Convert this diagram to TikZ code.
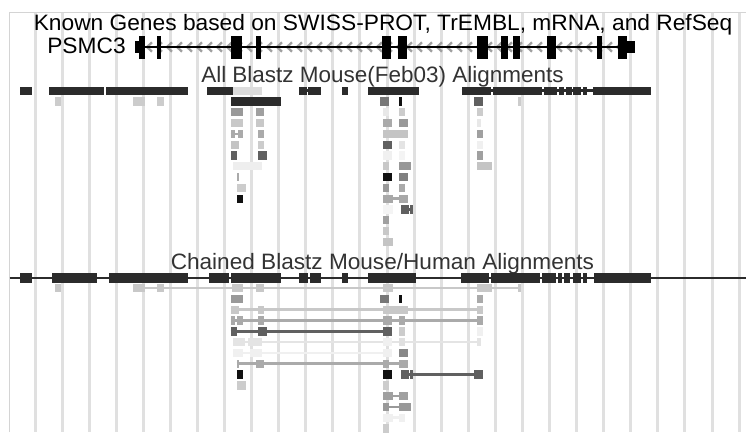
\documentclass[tikz,border=0pt]{standalone}
\usepackage{fontspec}
\setmainfont{Liberation Sans}
\usepackage{graphicx}
\definecolor{c11}{HTML}{111111}
\definecolor{c2b}{HTML}{2B2B2B}
\definecolor{c60}{HTML}{606060}
\definecolor{c77}{HTML}{777777}
\definecolor{c80}{HTML}{808080}
\definecolor{c88}{HTML}{888888}
\definecolor{c99}{HTML}{999999}
\definecolor{ca0}{HTML}{A0A0A0}
\definecolor{ca8}{HTML}{A8A8A8}
\definecolor{caa}{HTML}{AAAAAA}
\definecolor{cc4}{HTML}{C4C4C4}
\definecolor{cc8}{HTML}{C8C8C8}
\definecolor{ccc}{HTML}{CCCCCC}
\definecolor{cdc}{HTML}{DCDCDC}
\definecolor{ce0}{HTML}{E0E0E0}
\definecolor{ce4}{HTML}{E4E4E4}
\definecolor{ce8}{HTML}{E8E8E8}
\definecolor{cee}{HTML}{EEEEEE}
\definecolor{cf0}{HTML}{F0F0F0}
\definecolor{cf4}{HTML}{F4F4F4}
\definecolor{gridc}{HTML}{E0E0E0}
\definecolor{borderc}{HTML}{D4D4D4}
\definecolor{labelc}{HTML}{333333}
\newcommand\BZbox[4]{\pgfmathsetmacro\yt{86.5+(#1-1)*10.8}\fill[#2] (#3,\yt) rectangle (#4,{\yt+8.3});}
\newcommand\BZline[4]{\pgfmathsetmacro\ym{86.5+(#1-1)*10.8+4.15}\draw[#2,line width=1.9pt] (#3,\ym) -- (#4,\ym);}
\newcommand\CHbox[4]{\pgfmathsetmacro\yt{284+(#1-1)*10.8}\fill[#2] (#3,\yt) rectangle (#4,{\yt+8.3});}
\newcommand\CHline[4]{\pgfmathsetmacro\ym{284+(#1-1)*10.8+4.15}\draw[#2,line width=1.9pt] (#3,\ym) -- (#4,\ym);}
\newcommand\GENEbox[2]{\fill[black] (#1,35.5) rectangle (#2,58.5);}
\newcommand\MAINbox[2]{\fill[c2b] (#1,272.7) rectangle (#2,282.7);}
\tikzset{
  lbl/.style={anchor=base west,inner sep=0pt,font=\fontsize{16.7}{18}\selectfont},
  chev/.style={draw=ca0,line width=1.7pt}
}
\begin{document}
\begin{tikzpicture}[x=0.75pt,y=-0.75pt]
\useasboundingbox (0,0) rectangle (746,432);
\fill[white] (0,0) rectangle (746,432);
% grid
\foreach \k in {0,...,26} {\fill[gridc] ({35+27.08*\k-1.5},12) rectangle ({35+27.08*\k+1.5},432);}
\draw[borderc,line width=0.75pt] (9.5,432) -- (9.5,12) -- (746,12);
% titles
\node[lbl,text=black] (title) at (33.5,30.5) {\scalebox{1.022}[1]{Known Genes based on SWISS-PROT, TrEMBL, mRNA, and RefSeq}};
\node[lbl,text=black] (gname) at (47,53) {\scalebox{1.022}[1]{PSMC3}};
\node[lbl,text=labelc] (blastz) at (201,82.3) {\scalebox{1.01}[1]{All Blastz Mouse(Feb03) Alignments}};
\node[lbl,text=labelc] (chain) at (170.5,269.3) {\scalebox{1.015}[1]{Chained Blastz Mouse/Human Alignments}};
% gene track
\foreach \x in {147,157,...,627} {\draw[chev] (\x+5,42.3) -- (\x,47) -- (\x+5,51.7);}
\draw[black,line width=1.8pt] (135,47) -- (635,47);
\fill[black] (135,41) rectangle (139.3,53);
\GENEbox{139.3}{145}
\GENEbox{157.3}{160.7}
\GENEbox{231}{241.7}
\GENEbox{255.7}{260.7}
\GENEbox{382}{390.5}
\GENEbox{398}{407}
\GENEbox{477}{488.3}
\GENEbox{500.7}{508.3}
\GENEbox{513.3}{520}
\GENEbox{546.7}{556}
\GENEbox{596.7}{602.3}
\GENEbox{618.3}{626.7}
\fill[black] (626.7,41) rectangle (635,53);
% blastz row 1
\BZbox{1}{c2b}{20}{32.3}
\BZbox{1}{c2b}{49.3}{104}
\BZbox{1}{c2b}{106}{188.3}
\BZbox{1}{c2b}{206.7}{233.3}
\BZbox{1}{cdc}{233.3}{261.7}
\BZline{1}{c2b}{299}{320.7}
\BZbox{1}{c2b}{299}{306.5}
\BZbox{1}{c2b}{308}{320.7}
\BZbox{1}{c2b}{342.3}{347.7}
\BZbox{1}{c2b}{368}{419}
\BZline{1}{c2b}{461.5}{651}
\BZbox{1}{c2b}{461.5}{490.7}
\BZbox{1}{c2b}{493.3}{541.7}
\BZbox{1}{c2b}{544}{556.7}
\BZbox{1}{c2b}{559}{564}
\BZbox{1}{c2b}{566}{571.7}
\BZbox{1}{c2b}{573.3}{581}
\BZbox{1}{c2b}{582.7}{586.7}
\BZbox{1}{c2b}{593.3}{651}
% row 2
\BZbox{2}{ccc}{55}{61}
\BZbox{2}{ccc}{133.3}{145}
\BZbox{2}{ccc}{157.3}{164.3}
\BZbox{2}{c2b}{230.7}{280.7}
\BZbox{2}{c77}{380}{389}
\BZbox{2}{c11}{399}{401.7}
\BZbox{2}{c60}{474.3}{483.3}
\BZbox{2}{ccc}{518.3}{521}
% row 3
\BZbox{3}{c99}{230.7}{242.7}
\BZbox{3}{ca0}{255.7}{264.3}
\BZbox{3}{ce8}{383.3}{389}
\BZbox{3}{ccc}{399}{405}
\BZbox{3}{ccc}{476.7}{482.7}
% row 4
\BZbox{4}{cc8}{230.7}{242.7}
\BZbox{4}{cc8}{255.7}{264.3}
\BZbox{4}{caa}{383.3}{392.3}
\BZbox{4}{c99}{399}{407.7}
\BZbox{4}{ce8}{476.7}{480.7}
% row 5
\BZline{5}{caa}{230.7}{242.7}
\BZbox{5}{caa}{230.7}{235}
\BZbox{5}{caa}{238.3}{242.7}
\BZbox{5}{caa}{257.7}{264.3}
\BZbox{5}{cc4}{383.3}{407.7}
\BZbox{5}{ca0}{476.7}{482.7}
% row 6
\BZbox{6}{cc4}{230.7}{239.3}
\BZbox{6}{ccc}{257.7}{264.3}
\BZbox{6}{c60}{383.3}{392.3}
\BZbox{6}{ce4}{399}{405}
\BZbox{6}{cf0}{476.7}{482.7}
% row 7
\BZbox{7}{c60}{230.7}{237.3}
\BZbox{7}{c60}{257.7}{266.7}
\BZbox{7}{cf0}{383.3}{392.3}
\BZbox{7}{cf4}{399}{405}
\BZbox{7}{ca0}{476.7}{482.7}
% row 8
\BZbox{8}{cee}{233.3}{261.7}
\BZbox{8}{cc8}{383.3}{389}
\BZbox{8}{c99}{399}{411}
\BZbox{8}{cc4}{476.7}{491.7}
% row 9
\BZbox{9}{caa}{236.7}{239}
\BZbox{9}{c11}{383.3}{392.3}
\BZbox{9}{c80}{399}{407.7}
% row 10
\BZbox{10}{ccc}{236.7}{245.7}
\BZbox{10}{c99}{383.3}{389}
\BZbox{10}{caa}{399}{405}
% row 11
\BZbox{11}{c11}{236.7}{242.7}
\BZline{11}{ca8}{383.3}{407.7}
\BZbox{11}{ca8}{383.3}{393.3}
\BZbox{11}{ca8}{399}{407.7}
% row 12
\BZbox{12}{cf4}{383.3}{393.3}
\BZline{12}{c60}{401}{412.7}
\BZbox{12}{c60}{401}{409}
\BZbox{12}{c60}{410}{412.7}
% rows 13-15
\BZbox{13}{ca0}{383.3}{389}
\BZbox{14}{cc8}{383.3}{389}
\BZbox{15}{cc4}{383.3}{393.3}
% chain main line
\draw[c2b,line width=1.8pt] (9.5,277.7) -- (746,277.7);
\MAINbox{20}{32.3}
\MAINbox{51.7}{96.7}
\MAINbox{109.3}{188.3}
\MAINbox{209.3}{229.3}
\MAINbox{230.7}{280.7}
\MAINbox{299}{307.7}
\MAINbox{310}{320.7}
\MAINbox{342.3}{347.7}
\MAINbox{368.3}{416.3}
\MAINbox{461.3}{489}
\MAINbox{491.3}{539.7}
\MAINbox{542.3}{555.7}
\MAINbox{558}{562.3}
\MAINbox{563.7}{569.7}
\MAINbox{573}{581}
\MAINbox{582.7}{586.7}
\MAINbox{593.7}{651.3}
% chain row 1
\CHline{1}{cc8}{133.3}{521}
\CHbox{1}{cc8}{55}{61}
\CHbox{1}{cc8}{133.3}{145}
\CHbox{1}{cc8}{157.3}{164.3}
\CHbox{1}{cc8}{231.7}{242.7}
\CHbox{1}{cc8}{255.7}{264.3}
\CHbox{1}{cc8}{383.3}{393.3}
\CHbox{1}{cc8}{476.7}{491.7}
\CHbox{1}{cc8}{518.3}{521}
% chain row 2
\CHbox{2}{c99}{230.7}{242.7}
\CHbox{2}{c77}{380}{389}
\CHbox{2}{c11}{399}{401.7}
\CHbox{2}{caa}{476.7}{482.7}
% chain row 3
\CHline{3}{cc8}{230.7}{482.7}
\CHbox{3}{cc8}{230.7}{239.3}
\CHbox{3}{cc8}{257.7}{264.3}
\CHbox{3}{cc8}{383.3}{407.7}
\CHbox{3}{cc8}{476.7}{482.7}
% chain row 4
\CHline{4}{caa}{230.7}{482.7}
\CHbox{4}{caa}{230.7}{235}
\CHbox{4}{caa}{236.7}{242.7}
\CHbox{4}{caa}{257.7}{264.3}
\CHbox{4}{caa}{383.3}{392.3}
\CHbox{4}{caa}{399}{405}
\CHbox{4}{caa}{476.7}{482.7}
% chain row 5
\CHline{5}{c60}{230.7}{392.3}
\CHbox{5}{c60}{230.7}{237.3}
\CHbox{5}{c60}{257.7}{266.7}
\CHbox{5}{c60}{383.3}{392.3}
\CHbox{5}{ccc}{399}{405}
\CHbox{5}{cf0}{476.7}{482.7}
% chain row 6
\CHline{6}{ce4}{233.3}{480.7}
\CHbox{6}{ce4}{233.3}{245}
\CHbox{6}{ce4}{247.7}{261.7}
\CHbox{6}{cf0}{383.3}{392.3}
\CHbox{6}{ce0}{399}{405}
\CHbox{6}{ce4}{476.7}{480.7}
% chain row 7
\CHline{7}{cf0}{233.3}{392.3}
\CHbox{7}{cf0}{233.3}{242.7}
\CHbox{7}{cf0}{250}{261.7}
\CHbox{7}{cf0}{383.3}{392.3}
\CHbox{7}{c88}{399}{408}
% chain row 8
\CHline{8}{caa}{236.7}{407.7}
\CHbox{8}{caa}{236.7}{239}
\CHbox{8}{caa}{255.7}{264.3}
\CHbox{8}{caa}{383.3}{389}
\CHbox{8}{caa}{399}{407.7}
% chain row 9
\CHbox{9}{c11}{236.7}{242.7}
\CHbox{9}{c11}{383.3}{392.3}
\CHline{9}{c60}{401}{483.3}
\CHbox{9}{c60}{401}{409}
\CHbox{9}{c60}{410}{412.7}
\CHbox{9}{c60}{474.3}{483.3}
% chain row 10
\CHbox{10}{ccc}{236.7}{245.7}
\CHbox{10}{ccc}{383.3}{389}
% chain row 11
\CHline{11}{ca0}{383.3}{407.7}
\CHbox{11}{ca0}{383.3}{393.3}
\CHbox{11}{ca0}{399}{407.7}
% chain row 12
\CHline{12}{c99}{383.3}{411}
\CHbox{12}{c99}{383.3}{389}
\CHbox{12}{c99}{399}{411}
% chain row 13
\CHline{13}{cf0}{383.3}{405}
\CHbox{13}{cf0}{383.3}{393.3}
\CHbox{13}{cf0}{399}{405}
% chain row 14
\CHbox{14}{ccc}{383.3}{389}
\end{tikzpicture}
\end{document}
